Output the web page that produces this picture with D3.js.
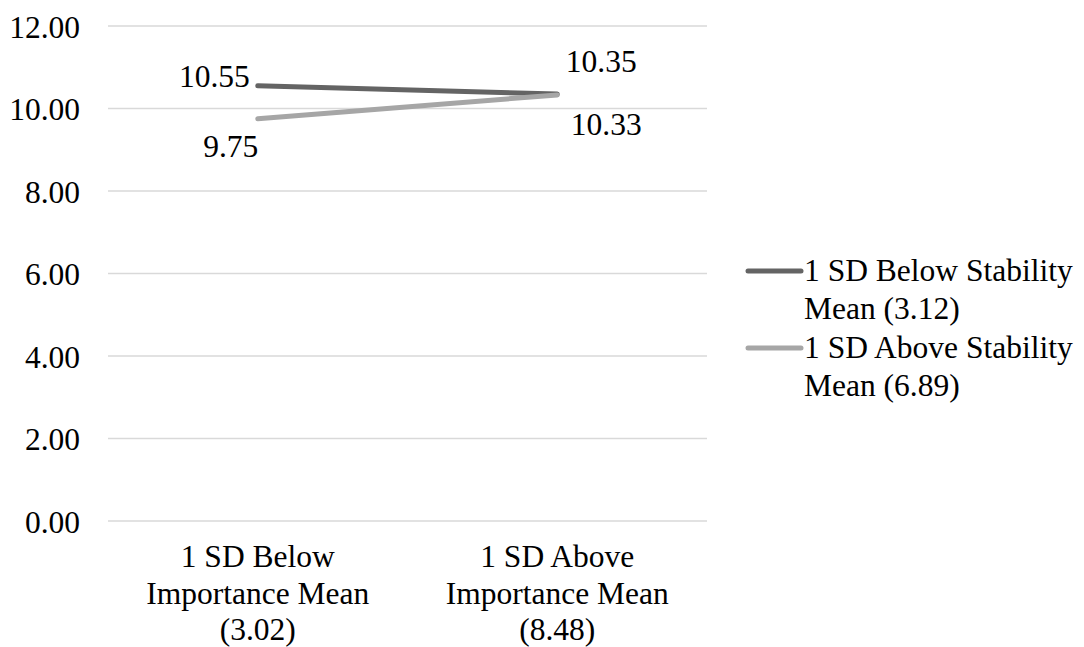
<!DOCTYPE html>
<html>
<head>
<meta charset="utf-8">
<script src="https://cdn.jsdelivr.net/npm/d3@7"></script>
<style>
  html, body { margin: 0; padding: 0; background: #ffffff; }
  svg { display: block; }
</style>
</head>
<body>
<svg id="chart" width="1084" height="647"></svg>
<script>
// Categories along the x axis (each label split across lines)
const categories = ["below", "above"];
const categoryLabels = [
  ["1 SD Below", "Importance Mean", "(3.02)"],
  ["1 SD Above", "Importance Mean", "(8.48)"]
];

// Series names (legend, two lines each) and values
const seriesNames = [
  ["1 SD Below Stability", "Mean (3.12)"],
  ["1 SD Above Stability", "Mean (6.89)"]
];
const belowStability = [10.55, 10.35];
const aboveStability = [9.75, 10.33];

// Y axis ticks
const yTicks = [0, 2, 4, 6, 8, 10, 12];

const seriesColors = ["#646464", "#a6a6a6"];
const fontFamily = "Liberation Serif";
const fontSize = 31.5;

const svg = d3.select("#chart");

// Applies the chart's type settings to a text selection
function serif(sel) {
  return sel.attr("font-family", fontFamily)
    .attr("font-size", fontSize)
    .attr("fill", "#000");
}

const plot = { left: 108, right: 707, top: 26, bottom: 521 };

const x = d3.scaleBand()
  .domain(categories)
  .range([plot.left, plot.right]);

const y = d3.scaleLinear()
  .domain([0, 12])
  .range([plot.bottom, plot.top]);

// Horizontal gridlines
svg.append("g")
  .selectAll("line")
  .data(yTicks)
  .join("line")
  .attr("x1", plot.left)
  .attr("x2", plot.right)
  .attr("y1", d => y(d))
  .attr("y2", d => y(d))
  .attr("stroke", "#d9d9d9")
  .attr("stroke-width", 1.5);

// Y axis labels
const yAxis = d3.axisLeft(y)
  .tickValues(yTicks)
  .tickFormat(d3.format(".2f"))
  .tickSize(0)
  .tickPadding(28);

const yAxisG = svg.append("g")
  .attr("transform", `translate(${plot.left},0)`)
  .call(yAxis);
yAxisG.attr("font-family", null).attr("font-size", null);
yAxisG.select(".domain").remove();
yAxisG.selectAll("text")
  .call(serif)
  .attr("dy", "0.36em");

// X axis category labels
const cx = d => x(d) + x.bandwidth() / 2;
const xLabels = svg.append("g");
categories.forEach((c, i) => {
  const t = xLabels.append("text")
    .call(serif)
    .attr("x", cx(c))
    .attr("y", 567)
    .attr("text-anchor", "middle");
  categoryLabels[i].forEach((line, j) => {
    t.append("tspan")
      .attr("x", cx(c))
      .attr("dy", j === 0 ? 0 : 36.5)
      .text(line);
  });
});

// Lines
const series = [belowStability, aboveStability];
const lineGen = d3.line()
  .x((d, i) => cx(categories[i]))
  .y(d => y(d));

svg.append("g")
  .selectAll("path")
  .data(series)
  .join("path")
  .attr("d", d => lineGen(d))
  .attr("fill", "none")
  .attr("stroke", (d, i) => seriesColors[i])
  .attr("stroke-width", 5)
  .attr("stroke-linecap", "round")
  .attr("stroke-linejoin", "round");

// Data labels: offsets from each point [dx, dy, anchor]
const labelOffsets = [
  [[-8, 1, "end"], [44, -22, "middle"]],
  [[-27, 38, "middle"], [49, 40, "middle"]]
];
const labels = svg.append("g");
series.forEach((vals, s) => {
  vals.forEach((v, i) => {
    const [dx, dy, anchor] = labelOffsets[s][i];
    labels.append("text")
      .call(serif)
      .attr("x", cx(categories[i]) + dx)
      .attr("y", y(v) + dy)
      .attr("text-anchor", anchor)
      .text(d3.format(".2f")(v));
  });
});

// Legend
const legend = svg.append("g");
const legendRowY = [271, 348];
seriesNames.forEach((name, i) => {
  const ly = legendRowY[i];
  legend.append("line")
    .attr("x1", 748)
    .attr("x2", 801)
    .attr("y1", ly)
    .attr("y2", ly)
    .attr("stroke", seriesColors[i])
    .attr("stroke-width", 5)
    .attr("stroke-linecap", "round");
  const t = legend.append("text")
    .call(serif)
    .attr("x", 804)
    .attr("y", ly + 10);
  name.forEach((line, j) => {
    t.append("tspan")
      .attr("x", 804)
      .attr("dy", j === 0 ? 0 : 38)
      .text(line);
  });
});
</script>
</body>
</html>
